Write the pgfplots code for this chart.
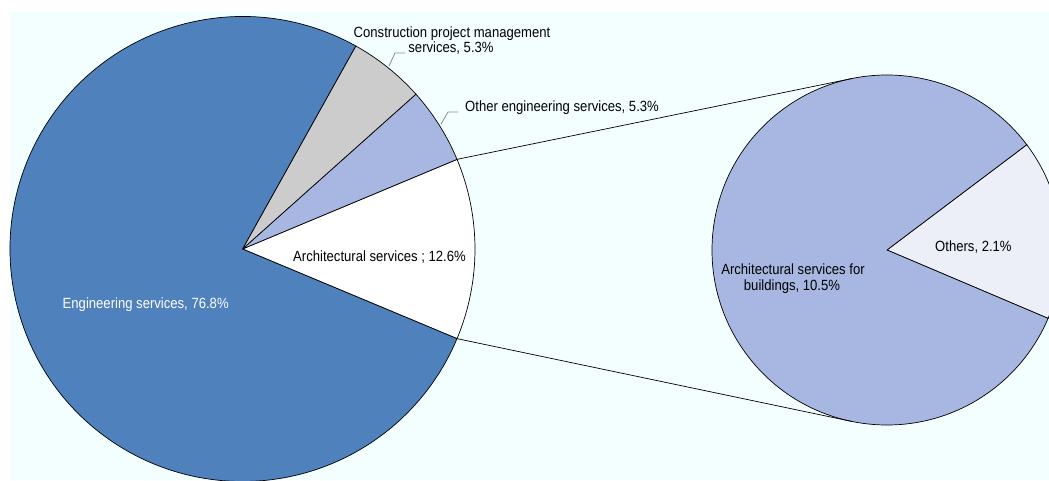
\documentclass[border=0pt]{standalone}
\usepackage{pgfplots}
\pgfplotsset{compat=1.18}
\usepackage{pgfplotstable}
\usepackage{fontspec}
\setmainfont{Liberation Sans}[FakeStretch=0.885]
\definecolor{bgcyan}{HTML}{F3FFFF}
\definecolor{engblue}{HTML}{4F81BD}
\definecolor{cpmgray}{HTML}{CCCCCC}
\definecolor{othblue}{HTML}{A7B7E1}
\definecolor{paleblue}{HTML}{ECEEF8}
\definecolor{leader}{HTML}{8C8C8C}

% main pie (shares, %)
\pgfplotstableread{
label value
Engineering 76.8
Construction 5.3
OtherEng 5.3
Architectural 12.6
}\maintable
% secondary pie: split of Architectural services (%)
\pgfplotstableread{
label value
Buildings 10.5
Others 2.1
}\subtable

\pgfplotstablegetelem{0}{value}\of\maintable \let\vEng\pgfplotsretval
\pgfplotstablegetelem{1}{value}\of\maintable \let\vCpm\pgfplotsretval
\pgfplotstablegetelem{2}{value}\of\maintable \let\vOth\pgfplotsretval
\pgfplotstablegetelem{3}{value}\of\maintable \let\vArc\pgfplotsretval
\pgfplotstablegetelem{0}{value}\of\subtable \let\vBld\pgfplotsretval
\pgfplotstablegetelem{1}{value}\of\subtable \let\vOts\pgfplotsretval

% angles, main pie (Architectural centred on 0 deg)
\pgfmathsetmacro{\aA}{-\vArc*3.6/2}
\pgfmathsetmacro{\aB}{\aA+\vArc*3.6}
\pgfmathsetmacro{\aC}{\aB+\vOth*3.6}
\pgfmathsetmacro{\aD}{\aC+\vCpm*3.6}
\pgfmathsetmacro{\aE}{\aD+\vEng*3.6}
% angles, secondary pie
\pgfmathsetmacro{\bA}{-23}
\pgfmathsetmacro{\bB}{\bA+\vOts/(\vOts+\vBld)*360}
\pgfmathsetmacro{\bC}{\bA+360}

% geometry (axis units = pt)
\def\cxA{242.5}\def\cyA{231}\def\rA{232.5}
\def\cxB{887}\def\cyB{230}\def\rB{175}
% tangent connector lines
\pgfmathsetmacro{\pux}{\cxA+\rA*cos(\aB)}
\pgfmathsetmacro{\puy}{\cyA+\rA*sin(\aB)}
\pgfmathsetmacro{\plx}{\cxA+\rA*cos(\aA)}
\pgfmathsetmacro{\ply}{\cyA+\rA*sin(\aA)}
\pgfmathsetmacro{\du}{veclen(\cxB-\pux,\cyB-\puy)}
\pgfmathsetmacro{\su}{asin(\rB/\du)}
\pgfmathsetmacro{\fu}{atan2(\cyB-\puy,\cxB-\pux)+\su}
\pgfmathsetmacro{\Lu}{\du*cos(\su)}
\pgfmathsetmacro{\dl}{veclen(\cxB-\plx,\cyB-\ply)}
\pgfmathsetmacro{\sl}{asin(\rB/\dl)}
\pgfmathsetmacro{\fl}{atan2(\cyB-\ply,\cxB-\plx)-\sl}
\pgfmathsetmacro{\Ll}{\dl*cos(\sl)}
\pgfmathsetmacro{\qux}{\pux+\Lu*cos(\fu)}
\pgfmathsetmacro{\quy}{\puy+\Lu*sin(\fu)}
\pgfmathsetmacro{\qlx}{\plx+\Ll*cos(\fl)}
\pgfmathsetmacro{\qly}{\ply+\Ll*sin(\fl)}

\newcommand{\lbl}{\fontsize{14.8}{16}\selectfont}

\begin{document}
\begin{tikzpicture}
\begin{axis}[
  width=1049pt, height=480pt, scale only axis,
  xmin=0, xmax=1049, ymin=0, ymax=480,
  hide axis, clip=true,
]
\fill[bgcyan] (axis cs:10,0) rectangle (axis cs:1049,468);
% main pie
\filldraw[fill=white, draw=black, line width=0.7pt] (axis cs:\cxA,\cyA) -- ++(\aA:\rA pt) arc[start angle=\aA, end angle=\aB, radius=\rA pt] -- cycle;
\filldraw[fill=othblue, draw=black, line width=0.7pt] (axis cs:\cxA,\cyA) -- ++(\aB:\rA pt) arc[start angle=\aB, end angle=\aC, radius=\rA pt] -- cycle;
\filldraw[fill=cpmgray, draw=black, line width=0.7pt] (axis cs:\cxA,\cyA) -- ++(\aC:\rA pt) arc[start angle=\aC, end angle=\aD, radius=\rA pt] -- cycle;
\filldraw[fill=engblue, draw=black, line width=0.7pt] (axis cs:\cxA,\cyA) -- ++(\aD:\rA pt) arc[start angle=\aD, end angle=\aE, radius=\rA pt] -- cycle;
% secondary pie
\filldraw[fill=paleblue, draw=black, line width=0.7pt] (axis cs:\cxB,\cyB) -- ++(\bA:\rB pt) arc[start angle=\bA, end angle=\bB, radius=\rB pt] -- cycle;
\filldraw[fill=othblue, draw=black, line width=0.7pt] (axis cs:\cxB,\cyB) -- ++(\bB:\rB pt) arc[start angle=\bB, end angle=\bC, radius=\rB pt] -- cycle;
% connectors
\draw[black, line width=0.7pt] (axis cs:\pux,\puy) -- (axis cs:\qux,\quy);
\draw[black, line width=0.7pt] (axis cs:\plx,\ply) -- (axis cs:\qlx,\qly);
% leader lines
\draw[leader, line width=0.8pt] (axis cs:389,414) -- (axis cs:395,427) -- (axis cs:405,427);
\draw[leader, line width=0.8pt] (axis cs:441,356) -- (axis cs:448,368) -- (axis cs:458,368);
% labels
\node[anchor=base, inner sep=0pt] at (axis cs:452,442.5) {\lbl Construction project management};
\node[anchor=base, inner sep=0pt] at (axis cs:451,427.5) {\lbl services, 5.3\%};
\node[anchor=base west, inner sep=0pt] at (axis cs:465,368) {\lbl Other engineering services, 5.3\%};
\node[anchor=base west, inner sep=0pt] at (axis cs:293,219) {\lbl Architectural services ; 12.6\%};
\node[anchor=base west, inner sep=0pt, text=white] at (axis cs:62.5,172) {\lbl Engineering services, 76.8\%};
\node[anchor=base, inner sep=0pt] at (axis cs:793,205.5) {\lbl Architectural services for};
\node[anchor=base, inner sep=0pt] at (axis cs:792,189.5) {\lbl buildings, 10.5\%};
\node[anchor=base west, inner sep=0pt] at (axis cs:935,229) {\lbl Others, 2.1\%};
\end{axis}
\pgfresetboundingbox
\useasboundingbox (current axis.south west) rectangle (current axis.north east);
\end{tikzpicture}
\end{document}
